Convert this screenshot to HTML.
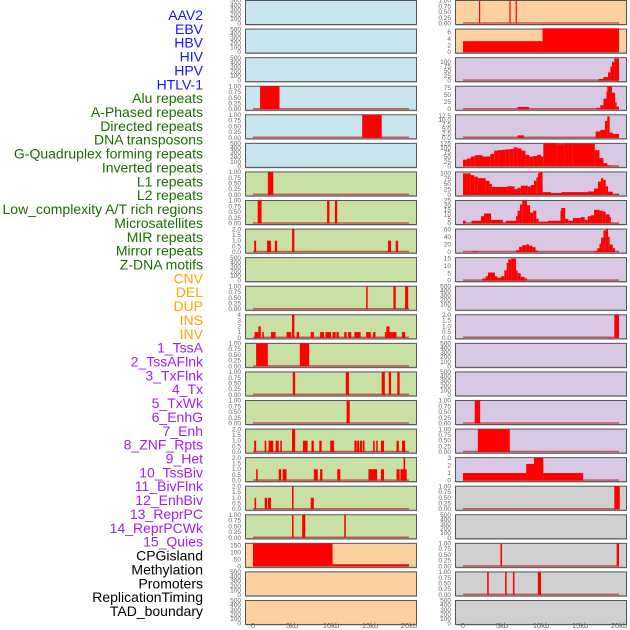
<!DOCTYPE html>
<html><head><meta charset="utf-8"><style>
html,body{margin:0;padding:0;background:#fff;width:630px;height:630px;overflow:hidden}
svg{display:block;font-family:"Liberation Sans",sans-serif}
</style></head><body>
<svg id="chart" width="630" height="630" viewBox="0 0 630 630" xmlns="http://www.w3.org/2000/svg"></svg>
<script>
const trackLabels=["AAV2","EBV","HBV","HIV","HPV","HTLV-1","Alu repeats","A-Phased repeats","Directed repeats","DNA transposons","G-Quadruplex forming repeats","Inverted repeats","L1 repeats","L2 repeats","Low_complexity A/T rich regions","Microsatellites","MIR repeats","Mirror repeats","Z-DNA motifs","CNV","DEL","DUP","INS","INV","1_TssA","2_TssAFlnk","3_TxFlnk","4_Tx","5_TxWk","6_EnhG","7_Enh","8_ZNF_Rpts","9_Het","10_TssBiv","11_BivFlnk","12_EnhBiv","13_ReprPC","14_ReprPCWk","15_Quies","CPGisland","Methylation","Promoters","ReplicationTiming","TAD_boundary"];
const labelColors=[].concat(Array(6).fill("#1414ff"),Array(13).fill("#1a6e00"),Array(5).fill("#ffa500"),Array(15).fill("#a020f0"),Array(5).fill("#000"));
const bgColors=[].concat(Array(6).fill("#c8e4ec"),Array(13).fill("#c8e0a4"),Array(3).fill("#fdd0a0"),Array(2).fill("#fdd0a0"),Array(15).fill("#d8c8e4"),Array(5).fill("#d0d0d0"));
const xTickLabels=["0","5kb","10kb","15kb","20kb"];
const xTickValues=[0,5,10,15,20];
const T500=["0","100","200","300","400","500"],T1=["0.00","0.25","0.50","0.75","1.00"],T2=["0.0","0.5","1.0","1.5","2.0"];
const panelTicks=[T500,T500,T500,T1,T1,T500,T1,T1,T2,T500,T1,["0","1","2","3","4"],T1,T1,T1,T2,T2,T2,T1,["0","50","100","150"],T500,T500,
T1,["0","2","4","6"],["0","25","50","75","100"],["0","25","50","75"],["0.0","2.5","5.0","7.5","10.0","12.5"],["0","25","50","75","100","125"],["0","25","50","75","100"],["0","5","10","15","20","25"],["0","20","40","60"],["0","5","10","15"],T500,T2,T500,T500,T1,T1,["0","1","2","3"],T1,T500,T1,T1,T500];
const panelMax=[500,500,500,1,1,500,1,1,2,500,1,4,1,1,1,2,2,2,1,164,500,500,
1,6.9,121,80,13,125,106,25,60,15.5,500,2,500,500,1,1,3,1,500,1,1,500];
const panelSegs=[[],[],[],[[0.9,3.4,1]],[[14,16.5,1]],[],
[[1.9,2.6,1]],
[[0.6,1.1,1],[9.5,9.8,1],[10.5,10.8,1]],
[[0.15,0.4,1],[1.8,2.3,1],[2.8,3.1,1],[5.0,5.3,2],[17.3,17.7,1],[18.3,18.6,1]],
[],
[[14.5,14.7,1],[18,18.3,1],[19.5,19.9,1]],
[[0.2,0.7,1],[0.7,1.0,2],[1.2,1.4,1],[2.3,2.9,1],[4.3,4.9,1],[5.0,5.3,4],[5.6,5.9,1],[7.4,7.8,1],[8.6,9.1,1],[9.3,10.0,1],[10.2,10.6,1],[10.7,11.0,1],[11.7,12.0,1],[12.2,12.6,1],[13.0,13.8,1],[14.5,15.1,1],[15.4,15.7,1],[16.9,17.1,1],[17.1,17.5,2],[17.5,17.7,1],[17.7,18.4,1],[19.1,19.5,1]],
[[0.4,1.9,1],[6.0,7.2,1]],
[[5.1,5.4,1],[11.9,12.3,1],[16.5,16.9,1],[17.4,17.7,1],[18.5,18.8,1]],
[[12.0,12.4,1]],
[[0.15,0.4,1],[1.5,1.7,1],[2.0,2.6,1],[2.9,3.3,1],[3.5,3.7,1],[5.0,5.4,2],[6.4,7.0,1],[7.5,7.8,1],[8.5,8.8,1],[9.9,10.4,1],[13.0,13.3,1],[13.35,13.6,1],[13.7,14.0,1],[14.1,14.3,1],[15.4,15.6,1],[15.8,16.0,1],[16.4,16.8,1],[18.4,18.7,1],[19.1,19.5,1]],
[[0.4,0.6,1],[3.3,3.6,1],[3.8,4.3,1],[7.8,8.3,1],[8.6,8.9,1],[10.8,11.2,1],[14.8,15.9,1],[16.4,16.8,1],[18.4,18.8,1],[18.9,19.7,1],[19.3,19.5,2]],
[[0.2,0.4,1],[1.5,1.8,1],[1.9,2.3,1],[5.0,5.2,2],[7.4,7.8,1]],
[[5.0,5.2,1],[6.3,6.7,1],[11.7,11.9,1]],
[[0,10.2,164],[10.2,20,15]],
[],[],
[[2.05,2.2,1],[5.95,6.1,1],[6.75,6.9,1]],
[[0,10.2,3.3],[10.2,20,7.2]],
[[17.4,18.0,9],[18.0,18.6,19],[18.6,18.9,44],[18.9,19.1,75],[19.1,19.4,100],[19.4,20.0,118]],
[[7.0,8.5,8],[17.1,17.6,5],[17.6,18.0,14],[18.0,18.4,37],[18.4,18.5,62],[18.5,19.1,80],[19.1,19.5,58],[19.5,19.7,24],[19.7,20.0,9]],
[[7.0,7.8,1.4],[17.0,17.6,3.6],[17.6,18.2,4.5],[18.2,18.5,9.6],[18.5,18.8,12.2],[18.8,19.2,3],[19.2,20.0,2.2]],
[[0,0.5,36],[0.5,1,43],[1,1.5,54],[1.5,2.5,61],[2.5,3.5,54],[3.5,4,68],[4,4.5,86],[4.5,5,89],[5,5.5,91],[5.5,6,93],[6,6.5,95],[6.5,7,104],[7,7.5,98],[7.5,8,86],[8,8.5,63],[8.5,9,54],[9,9.5,57],[9.5,10,63],[10,10.3,54],[10.3,12,125],[12,13,122],[13,14,124],[14,16.9,123],[16.9,17.5,89],[17.5,18,45],[18,18.5,18],[18.5,19,5],[19,20,1]],
[[0,1,100],[1,1.45,92],[1.45,1.9,85],[1.9,2.9,78],[2.9,3.4,66],[3.4,3.7,51],[3.7,5.7,37],[5.7,6.6,40],[6.6,7.0,27],[7.0,7.4,33],[7.4,8.3,43],[8.3,8.7,39],[8.7,9.1,46],[9.1,9.4,66],[9.4,9.6,81],[9.6,9.8,100],[9.8,10.2,106],[10.2,11.3,13],[11.3,12.6,9],[12.6,16.0,13],[16.0,16.8,16],[16.8,17.3,30],[17.3,17.7,62],[17.7,18.0,78],[18.0,18.3,70],[18.3,18.6,40],[18.6,19.2,15],[19.2,19.8,3],[19.8,20,6]],
[[0,0.35,3],[1.1,2.3,3],[2.3,2.7,8],[2.7,3.6,11],[3.6,5.1,4],[5.1,5.5,1],[5.5,6.8,3],[6.8,7.0,8],[7.0,7.3,14],[7.3,7.6,21],[7.6,8.2,25],[8.2,8.6,20],[8.6,9.0,12],[9.0,9.4,14],[9.4,9.7,5],[9.7,10.9,2],[10.9,12.5,3],[12.5,12.6,14],[12.6,13.1,17],[13.1,13.5,5],[13.5,14.1,3],[14.1,15.1,6],[15.1,15.6,7],[15.6,16.0,4],[16.0,16.4,8],[16.4,16.8,9],[16.8,17.5,15],[17.5,17.9,14],[17.9,18.3,13],[18.3,18.8,10],[18.8,18.9,7],[18.9,20,0.5]],
[[1.2,2.0,1.5],[6.8,7.2,5],[7.2,7.6,14],[7.6,8.1,18],[8.1,8.5,20],[8.5,8.9,17],[8.9,9.3,13],[9.3,9.6,4],[16.8,17.2,3],[17.2,17.5,10],[17.5,17.7,22],[17.7,18.0,38],[18.0,18.3,57],[18.3,18.6,60],[18.6,18.8,40],[18.8,19.2,20],[19.2,19.5,10],[19.8,20,2]],
[[2.5,2.9,1.5],[2.9,3.2,3],[3.2,4.1,5.5],[4.1,4.4,3],[4.4,4.9,2],[4.9,5.3,3],[5.3,5.6,7],[5.6,5.8,12],[5.8,6.2,14.5],[6.2,6.8,15],[6.8,7.0,7],[7.0,7.4,5],[7.4,7.9,2.5],[7.9,8.2,1.5]],
[],
[[19.4,20,2]],
[],[],
[[1.5,2.2,1]],
[[1.9,6.0,1]],
[[0,7.7,1],[7.7,8.1,1],[8.1,9.1,2.2],[9.1,10.3,3],[10.3,15.4,1]],
[[19.4,20.1,1]],
[],
[[4.8,5.0,1],[19.7,20,1]],
[[3.1,3.3,1],[5.4,5.6,1],[6.4,6.6,1],[9.6,10.0,1]],
[]];

const NS="http://www.w3.org/2000/svg";
const svg=document.getElementById("chart");
function mk(tag,attrs,parent){const e=document.createElementNS(NS,tag);for(const k in attrs)e.setAttribute(k,attrs[k]);(parent||svg).appendChild(e);return e;}
const PITCH=28.57;
function colX(c){return c===0?245:455;}
function xScale(c,kb){return (c===0?253:463)+kb*7.8;}
function yScale(top,max,v){return top+23.5-v/max*22.8;}

// labels
const lg=mk("g",{});


trackLabels.forEach((t,i)=>{
  const e=mk("text",{x:203,y:15+i*13.86+5,"text-anchor":"end","font-size":"14",fill:labelColors[i]},lg);
  e.textContent=t;
  
  
});

for(let i=0;i<44;i++){
  const c=i<22?0:1, r=i%22, top=r*PITCH;
  const g=mk("g",{});
  
  
  const x0=colX(c);
  mk("rect",{x:x0+1,y:top+1.5,width:171,height:24,fill:"#b0b0b0"},g);
  const bg=mk("rect",{x:x0+0.5,y:top+0.5,width:171,height:24,fill:bgColors[i],stroke:"#555","stroke-width":1},g);
  
  
  const max=panelMax[i], ticks=panelTicks[i];
  ticks.forEach(tl=>{
    const v=parseFloat(tl);
    const t=mk("text",{x:x0-4,y:yScale(top,max,v)+2,"text-anchor":"end","font-size":"6.5",fill:"#666"},g);
    t.textContent=tl;
    
    
  });
  const segs=panelSegs[i];
  if(segs.length){
    const bl=mk("line",{x1:xScale(c,0),x2:xScale(c,20),y1:top+23,y2:top+23,stroke:"#c43a3a","stroke-width":1.5,"stroke-opacity":0.8},g);
    
    
    segs.forEach(s=>{
      const xa=xScale(c,s[0]), xb=xScale(c,s[1]);
      const y=yScale(top,max,s[2]);
      const b=mk("rect",{x:xa,y:y,width:Math.max(1.2,xb-xa),height:top+23.5-y,fill:"#ff0000"},g);
      
      
    });
  }
}
// x axes
[0,1].forEach(c=>{
  xTickValues.forEach((v,k)=>{
    const t=mk("text",{x:xScale(c,v),y:628,"text-anchor":"middle","font-size":"7.5",fill:"#666"});
    t.textContent=xTickLabels[k];
    
    
  });
});
</script>
</body></html>
